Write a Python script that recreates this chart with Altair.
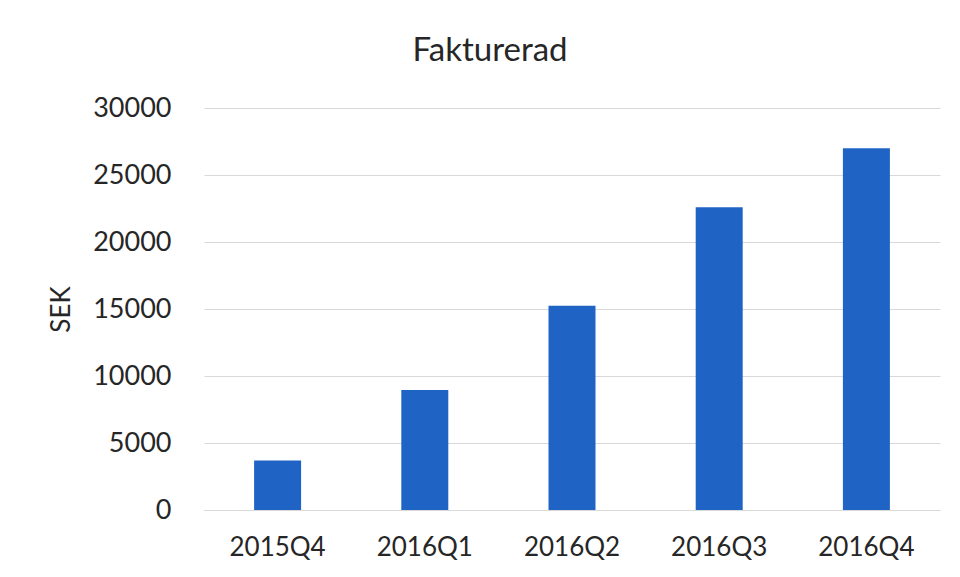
import altair as alt
import pandas as pd

quarters = ["2015Q4", "2016Q1", "2016Q2", "2016Q3", "2016Q4"]
values = [3700, 8950, 15250, 22600, 27000]
y_ticks = [0, 5000, 10000, 15000, 20000, 25000, 30000]

df = pd.DataFrame({"Kvartal": quarters, "SEK": values})

FONT = "Lato"
TXT = "#262626"

chart = (
    alt.Chart(df)
    .mark_bar(color="#1f64c4", size=47)
    .encode(
        x=alt.X(
            "Kvartal:N",
            sort=quarters,
            title=None,
            scale=alt.Scale(paddingInner=0.68, paddingOuter=0.34),
            axis=alt.Axis(
                labelAngle=0,
                labelFontSize=26,
                labelFont=FONT,
                labelColor=TXT,
                labelPadding=24,
                ticks=False,
                domain=True,
                domainColor="#d9d9d9",
                domainWidth=1,
                grid=False,
            ),
        ),
        y=alt.Y(
            "SEK:Q",
            title="SEK",
            scale=alt.Scale(domain=[0, 30000], nice=False),
            axis=alt.Axis(
                values=y_ticks,
                format="d",
                labelFontSize=27,
                labelFont=FONT,
                labelColor=TXT,
                labelPadding=33,
                ticks=False,
                domain=False,
                grid=True,
                gridColor="#d9d9d9",
                gridWidth=1,
                titleFont=FONT,
                titleFontSize=26,
                titleFontWeight="normal",
                titleColor=TXT,
                titlePadding=18,
            ),
        ),
    )
    .properties(
        width=736,
        height=402,
        title=alt.TitleParams(
            "Fakturerad",
            font=FONT,
            fontSize=33,
            fontWeight="normal",
            color=TXT,
            anchor="middle",
            dx=-82,
            offset=26,
        ),
        background="white",
        autosize=alt.AutoSizeParams(type="none"),
        padding={"left": 196, "top": 100, "right": 12, "bottom": 59},
    )
    .configure_view(strokeWidth=0, stroke="transparent")
)

chart.save("out.html", embed_options={"renderer": "svg", "actions": False})
